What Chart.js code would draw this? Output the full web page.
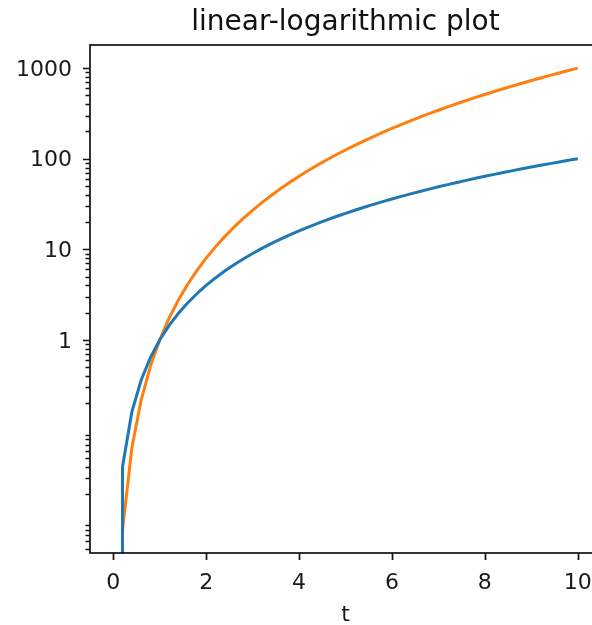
<!DOCTYPE html>
<html>
<head>
<meta charset="utf-8">
<script src="https://cdn.jsdelivr.net/npm/chart.js@4"></script>
<style>
  html, body { margin: 0; padding: 0; background: #fff; overflow: hidden; }
  canvas { display: block; }
</style>
</head>
<body>
<canvas id="myChart" width="620" height="625"></canvas>
<script>
// values (t from 0 to 10, step 0.2)
const tValues = [0, 0.2, 0.4, 0.6, 0.8, 1, 1.2, 1.4, 1.6, 1.8, 2, 2.2, 2.4, 2.6, 2.8, 3, 3.2, 3.4, 3.6, 3.8,
    4, 4.2, 4.4, 4.6, 4.8, 5, 5.2, 5.4, 5.6, 5.8, 6, 6.2, 6.4, 6.6, 6.8, 7, 7.2, 7.4, 7.6, 7.8,
    8, 8.2, 8.4, 8.6, 8.8, 9, 9.2, 9.4, 9.6, 9.8, 10];
const blueValues = [0, 0.04, 0.16, 0.36, 0.64, 1, 1.44, 1.96, 2.56, 3.24, 4, 4.84, 5.76, 6.76, 7.84, 9, 10.24, 11.56, 12.96, 14.44,
    16, 17.64, 19.36, 21.16, 23.04, 25, 27.04, 29.16, 31.36, 33.64, 36, 38.44, 40.96, 43.56, 46.24, 49, 51.84, 54.76, 57.76, 60.84,
    64, 67.24, 70.56, 73.96, 77.44, 81, 84.64, 88.36, 92.16, 96.04, 100];
const orangeValues = [0, 0.008, 0.064, 0.216, 0.512, 1, 1.73, 2.74, 4.1, 5.83, 8, 10.65, 13.82, 17.58, 21.95, 27, 32.77, 39.3, 46.66, 54.87,
    64, 74.09, 85.18, 97.34, 110.6, 125, 140.6, 157.5, 175.6, 195.1, 216, 238.3, 262.1, 287.5, 314.4, 343, 373.2, 405.2, 439, 474.6,
    512, 551.4, 592.7, 636.1, 681.5, 729, 778.7, 830.6, 884.7, 941.2, 1000];

const xTicks = [0, 2, 4, 6, 8, 10];
const yTicks = [1, 10, 100, 1000];

const xMin = -0.5, xMax = 10.5;
const yMin = Math.pow(10, -2.35), yMax = Math.pow(10, 3.255);

Chart.defaults.font.family = "'DejaVu Sans', sans-serif";
Chart.defaults.color = '#1a1a1a';

// zero can't sit on a log axis; push it far below like matplotlib's clip does
function toPoints(values) {
    return tValues.map((t, i) => ({ x: t, y: values[i] > 0 ? values[i] : 1e-300 }));
}

// spines and tick marks, drawn matplotlib style
const axesPlugin = {
    id: 'axesPlugin',
    afterDraw(chart) {
        const ctx = chart.ctx;
        const area = chart.chartArea;
        const xs = chart.scales.x;
        const ys = chart.scales.y;
        ctx.save();
        ctx.strokeStyle = '#111';
        ctx.lineWidth = 1.7;
        ctx.strokeRect(area.left, area.top, area.right - area.left, area.bottom - area.top);

        ctx.beginPath();
        xTicks.forEach(v => {
            const px = Math.round(xs.getPixelForValue(v)) + 0.5;
            ctx.moveTo(px, area.bottom);
            ctx.lineTo(px, area.bottom + 7);
        });
        yTicks.forEach(v => {
            const py = Math.round(ys.getPixelForValue(v)) + 0.5;
            ctx.moveTo(area.left - 7, py);
            ctx.lineTo(area.left, py);
        });
        ctx.stroke();

        ctx.lineWidth = 1.3;
        ctx.beginPath();
        for (let e = -3; e <= 3; e++) {
            for (let k = 2; k <= 9; k++) {
                const v = k * Math.pow(10, e);
                if (v < yMin || v > yMax) continue;
                const py = Math.round(ys.getPixelForValue(v)) + 0.5;
                ctx.moveTo(area.left - 4.5, py);
                ctx.lineTo(area.left, py);
            }
        }
        ctx.stroke();
        ctx.restore();
    }
};

const ctx = document.getElementById('myChart').getContext('2d');
const myChart = new Chart(ctx, {
    type: 'line',
    data: {
        datasets: [
            {
                data: toPoints(blueValues),
                borderColor: '#1f77b4',
                borderWidth: 3,
                pointRadius: 0,
                tension: 0
            },
            {
                data: toPoints(orangeValues),
                borderColor: '#ff7f0e',
                borderWidth: 3,
                pointRadius: 0,
                tension: 0
            }
        ]
    },
    options: {
        responsive: false,
        animation: false,
        layout: { padding: { left: 0, right: 19, top: 0, bottom: 0 } },
        plugins: {
            legend: { display: false },
            tooltip: { enabled: false },
            title: {
                display: true,
                text: 'linear-logarithmic plot',
                fullSize: false,
                color: '#111',
                font: { size: 28, weight: 'normal' },
                padding: { top: 5.7, bottom: 5.7 }
            }
        },
        scales: {
            x: {
                type: 'linear',
                min: xMin,
                max: xMax,
                afterBuildTicks: scale => { scale.ticks = xTicks.map(v => ({ value: v })); },
                afterFit: scale => { scale.height = 72; },
                grid: { display: false, drawTicks: false },
                border: { display: false },
                ticks: { font: { size: 22 }, padding: 17, maxRotation: 0 },
                title: { display: true, text: 't', font: { size: 22 }, padding: { top: 0, bottom: -3 } }
            },
            y: {
                type: 'logarithmic',
                min: yMin,
                max: yMax,
                afterBuildTicks: scale => { scale.ticks = yTicks.map(v => ({ value: v })); },
                afterFit: scale => { scale.width = 90; },
                grid: { display: false, drawTicks: false },
                border: { display: false },
                ticks: {
                    font: { size: 22 },
                    padding: 18,
                    labelOffset: 2,
                    callback: v => String(v)
                }
            }
        }
    },
    plugins: [axesPlugin]
});
</script>
</body>
</html>
